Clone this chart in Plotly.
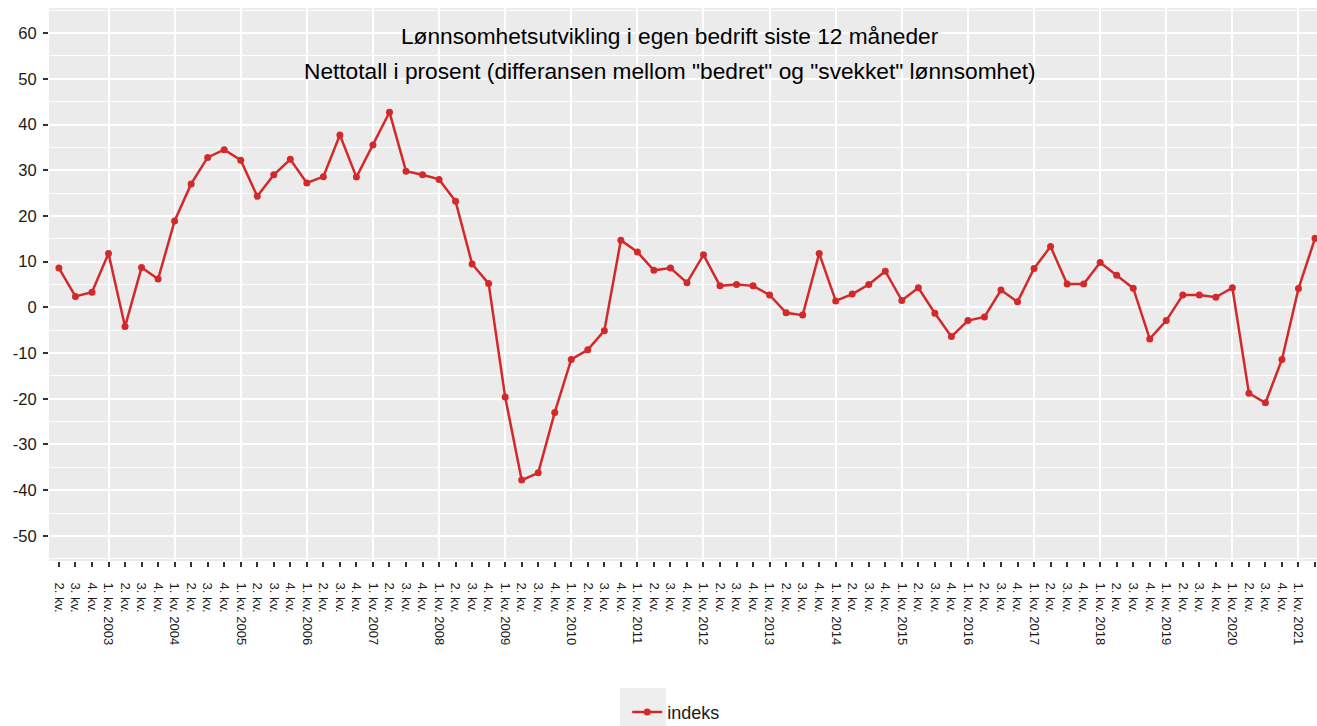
import plotly.graph_objects as go

# first period in the series: 2. kv. 2002
first_year = 2002
first_quarter = 2

# nettotall i prosent, one value per quarter
indeks = [
    8.6, 2.4, 3.3,                # 2002 (2.-4. kv.)
    11.8, -4.2, 8.7, 6.2,         # 2003
    18.9, 27.0, 32.8, 34.5,       # 2004
    32.2, 24.3, 29.0, 32.4,       # 2005
    27.2, 28.6, 37.7, 28.5,       # 2006
    35.5, 42.7, 29.8, 29.0,       # 2007
    28.0, 23.2, 9.5, 5.2,         # 2008
    -19.6, -37.8, -36.2, -23.0,   # 2009
    -11.4, -9.3, -5.1, 14.7,      # 2010
    12.1, 8.1, 8.6, 5.4,          # 2011
    11.5, 4.7, 5.0, 4.7,          # 2012
    2.7, -1.2, -1.7, 11.8,        # 2013
    1.4, 2.9, 5.0, 7.9,           # 2014
    1.5, 4.3, -1.3, -6.4,         # 2015
    -2.9, -2.1, 3.8, 1.2,         # 2016
    8.5, 13.3, 5.1, 5.1,          # 2017
    9.8, 7.0, 4.2, -6.9,          # 2018
    -2.9, 2.7, 2.7, 2.2,          # 2019
    4.3, -18.8, -20.9, -11.4,     # 2020
    4.1, 15.1,                    # 2021 (1.-2. kv.)
]

y_ticks = [-50, -40, -30, -20, -10, 0, 10, 20, 30, 40, 50, 60]

title_lines = [
    "Lønnsomhetsutvikling i egen bedrift siste 12 måneder",
    'Nettotall i prosent (differansen mellom "bedret" og "svekket" lønnsomhet)',
]

red = "#D22A2B"
font_family = "Liberation Sans, Arial, sans-serif"

x = list(range(len(indeks)))
labels = []
year_starts = []
for i in x:
    n = first_quarter - 1 + i
    q = n % 4 + 1
    year = first_year + n // 4
    if q == 1:
        labels.append(f"{q}. kv. {year}")
        year_starts.append(i)
    else:
        labels.append(f"{q}. kv.")

fig = go.Figure()
fig.add_trace(
    go.Scatter(
        x=x,
        y=indeks,
        mode="lines+markers",
        name="indeks",
        line=dict(color=red, width=2.5),
        marker=dict(color=red, size=7),
    )
)

fig.update_xaxes(
    range=[-0.6, 76.12],
    automargin=False,
    tickmode="array",
    tickvals=x,
    ticktext=labels,
    tickangle=90,
    tickfont=dict(size=13, color="#1a1a1a"),
    ticks="outside",
    ticklen=5,
    tickwidth=1.5,
    tickcolor="#333333",
    ticklabelstandoff=13,
    showgrid=False,
    zeroline=False,
    showline=False,
    minor=dict(
        tickmode="array",
        tickvals=year_starts,
        showgrid=True,
        gridcolor="white",
        gridwidth=2,
        ticks="",
    ),
)
fig.update_yaxes(
    range=[-55.5, 65.5],
    automargin=False,
    tickmode="array",
    tickvals=y_ticks,
    ticktext=[str(v) for v in y_ticks],
    tickfont=dict(size=16.5, color="#1a1a1a"),
    ticks="outside",
    ticklen=5,
    tickwidth=1.5,
    tickcolor="#333333",
    ticklabelstandoff=3,
    gridcolor="white",
    gridwidth=2,
    zeroline=False,
    showline=False,
    minor=dict(tick0=0, dtick=5, showgrid=True, gridcolor="white", gridwidth=1),
)

for text, ypos in zip(title_lines, [59.4, 51.7]):
    fig.add_annotation(
        x=37,
        y=ypos,
        xref="x",
        yref="y",
        text=text,
        showarrow=False,
        xanchor="center",
        yanchor="middle",
        font=dict(size=22.7, color="black", family=font_family),
    )

# grey background behind the legend key, like ggplot's legend.key
fig.add_shape(
    type="rect",
    xref="paper",
    yref="paper",
    x0=0.4503,
    x1=0.4866,
    y0=-0.2297,
    y1=-0.31,
    fillcolor="#EEEEEE",
    line=dict(width=0),
    layer="below",
)

fig.update_layout(
    width=1317,
    height=726,
    margin=dict(l=49, r=0, t=8, b=165, autoexpand=False),
    paper_bgcolor="white",
    plot_bgcolor="#EBEBEB",
    font=dict(family=font_family, color="#1a1a1a"),
    showlegend=True,
    legend=dict(
        orientation="h",
        x=0.456,
        xanchor="left",
        y=-0.24,
        yanchor="top",
        font=dict(size=18, color="#1a1a1a"),
        bgcolor="rgba(0,0,0,0)",
    ),
)

# drop the page's default body margin so the figure fills the window
fig.write_html(
    "out.html",
    config={"displayModeBar": False},
    post_script="document.body.style.margin = '0';",
)
